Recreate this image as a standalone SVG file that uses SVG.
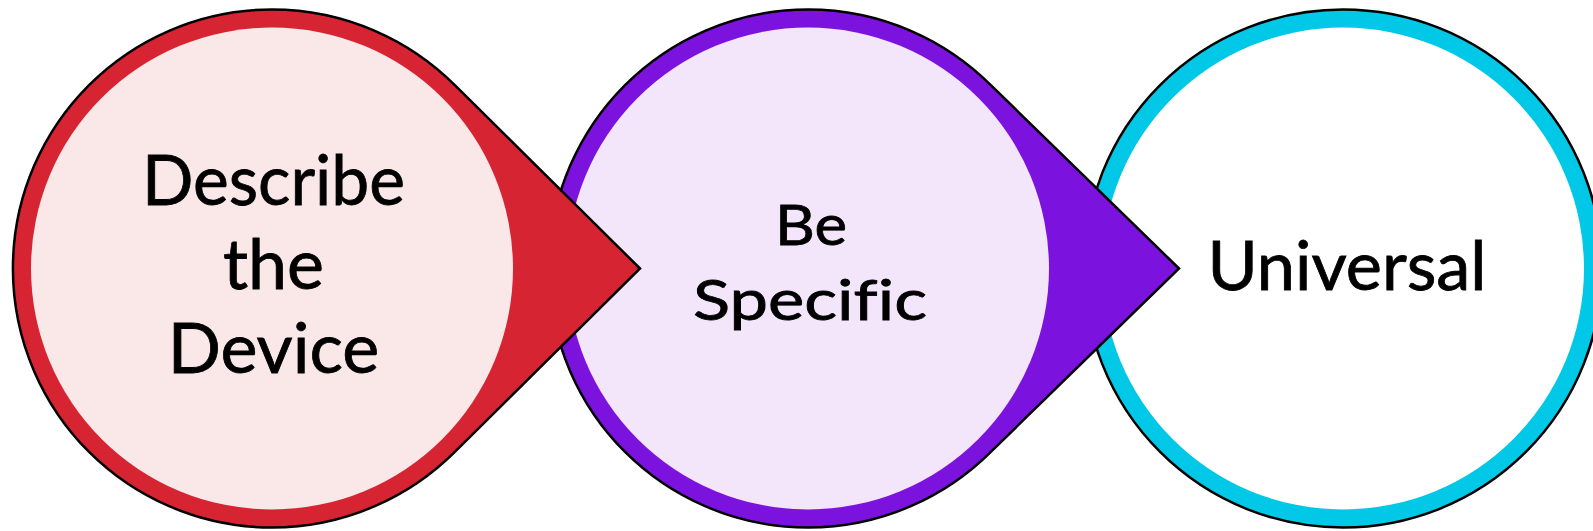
<svg xmlns="http://www.w3.org/2000/svg" width="1593" height="531" viewBox="0 0 1593 531">
<style>
.outer{stroke:#000;stroke-width:2.5;stroke-linejoin:miter}
.lbl{font-family:Lato,"Open Sans","Liberation Sans",sans-serif;fill:#000;stroke:#000;stroke-width:0.8;text-anchor:middle;font-variant-ligatures:none}
</style>
<rect width="1593" height="531" fill="#fff"/>
<g id="node-universal">
<circle class="outer" cx="1343" cy="268.5" r="259" fill="#00C8E6"/>
<circle cx="1343" cy="268.5" r="241" fill="#fff"/>
<text class="lbl" x="1347" y="290" font-size="67" textLength="279" lengthAdjust="spacingAndGlyphs">Universal</text>
</g>
<g id="node-specific">
<path class="outer" fill="#7C12DE" d="M1179,268.5 L991.1,85.4 A259,259 0 1 0 991.1,451.6 Z"/>
<circle cx="808" cy="268.5" r="241" fill="#F3E6FB"/>
<text class="lbl" font-size="57"><tspan x="811" y="245" textLength="72" lengthAdjust="spacingAndGlyphs">Be</tspan><tspan x="810" y="320" textLength="234" lengthAdjust="spacingAndGlyphs">Specific</tspan></text>
</g>
<g id="node-describe">
<path class="outer" fill="#D62433" d="M640,268.5 L455.1,85.4 A259,259 0 1 0 455.1,451.6 Z"/>
<circle cx="272" cy="268.5" r="241" fill="#FAE8E9"/>
<text class="lbl" font-size="70"><tspan x="273.5" y="205" textLength="263" lengthAdjust="spacingAndGlyphs">Describe</tspan><tspan x="273.5" y="289">the</tspan><tspan x="273.5" y="373">Device</tspan></text>
</g>
<g id="connectors"></g>
</svg>
